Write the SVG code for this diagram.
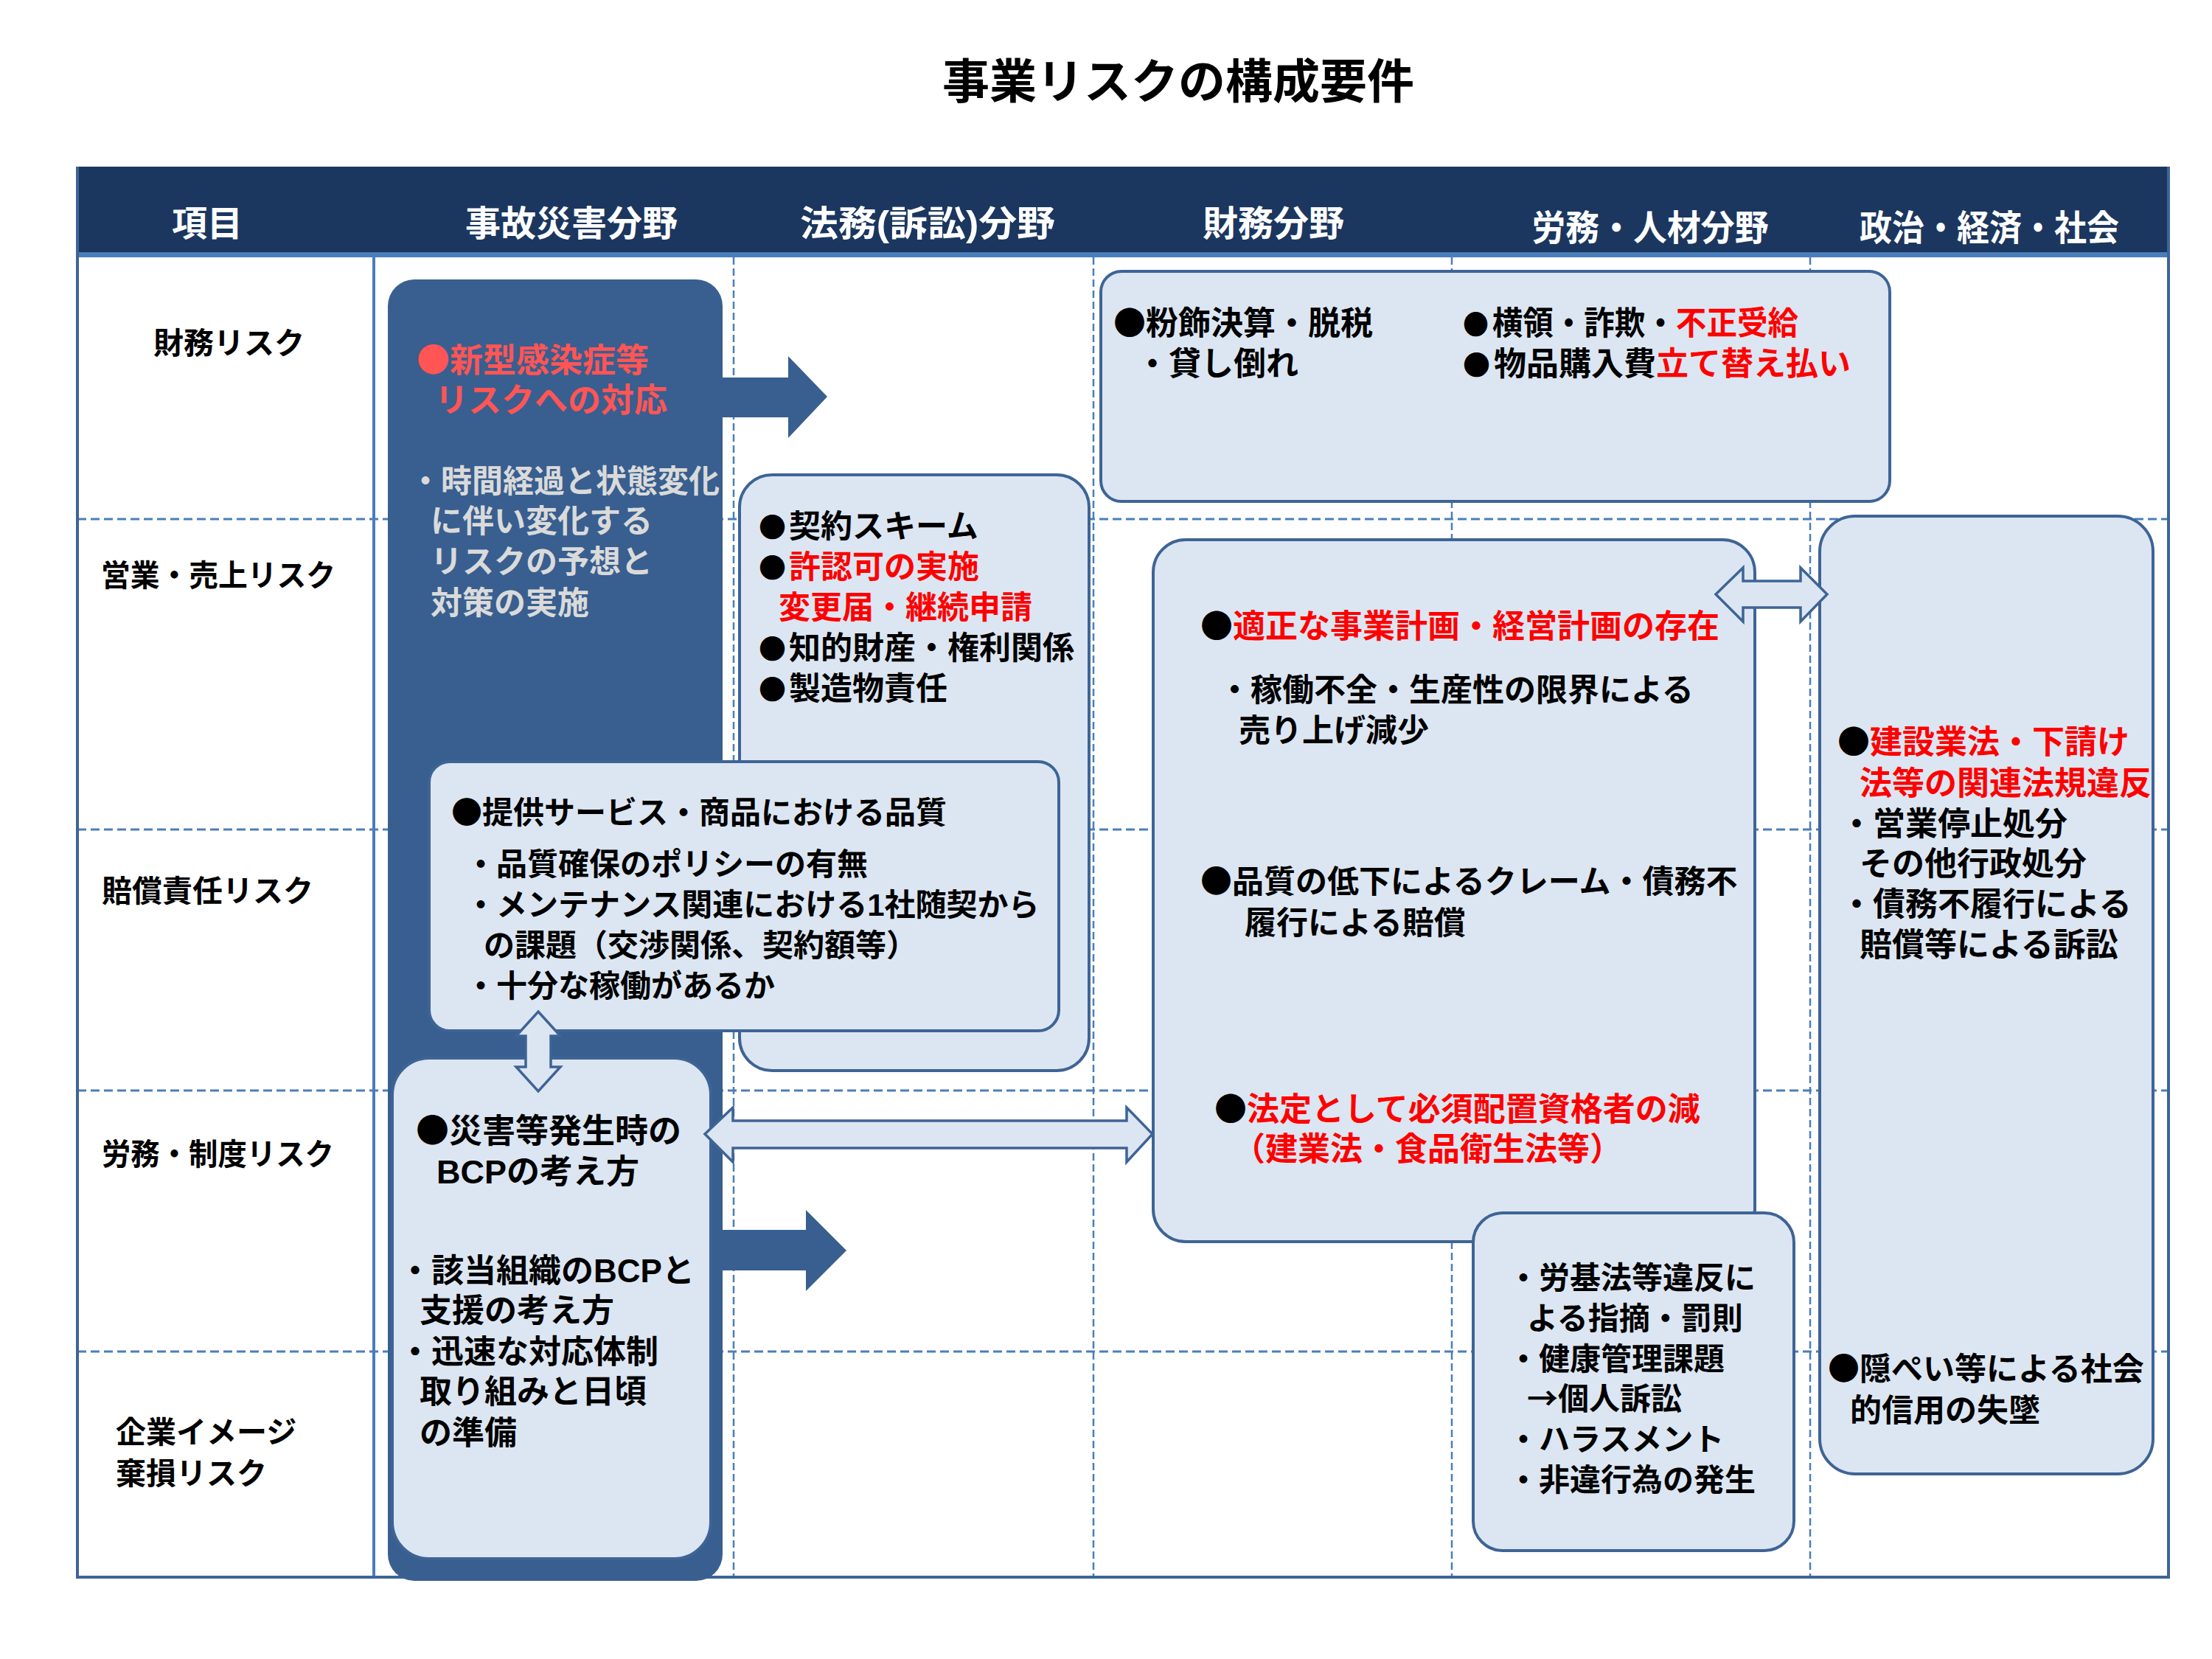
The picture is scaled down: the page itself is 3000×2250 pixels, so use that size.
<svg xmlns="http://www.w3.org/2000/svg" width="3000" height="2250" viewBox="0 0 3000 2250">
<defs>
<style>
text{font-family:"Liberation Sans","Noto Sans CJK JP",sans-serif;font-weight:bold;fill:#000}
.c{font-family:"Noto Sans CJK JP",sans-serif}
.cs{font-family:"Noto Sans CJK JP",sans-serif;font-size:37px}
.title{font-size:64px}
.hd{font-size:48px;fill:#fff;text-anchor:middle}
.row{font-size:41px}
.box{fill:#DCE6F2;stroke:#3E6496;stroke-width:4}
.dark{fill:#385F8F}
.dlarr{fill:#DCE6F2;stroke:#3E6496;stroke-width:3.5;stroke-linejoin:miter}
.hdash{stroke:#4A7EBB;stroke-width:3;stroke-dasharray:12 6;fill:none}
.vdash{stroke:#4A7EBB;stroke-width:2.5;stroke-dasharray:10 5;fill:none}
.r{fill:#FF0000}
.rl{fill:#FF5555}
.g{fill:#DADADA}
.f41{font-size:41px}.f42{font-size:42px}.f43{font-size:43px}.f44{font-size:44px}.f45{font-size:45px}
</style>
</defs>
<rect width="3000" height="2250" fill="#fff"/>
<text class="title" x="1598" y="133" text-anchor="middle">事業リスクの構成要件</text>

<g id="table">
<rect x="105" y="226" width="2836" height="116" fill="#1B375F"/>
<rect x="105" y="342" width="2836" height="7" fill="#4A7EBB"/>
<text class="hd" x="281" y="320">項目</text>
<text class="hd" x="775" y="320">事故災害分野</text>
<text class="hd" x="1258" y="320" textLength="346" lengthAdjust="spacingAndGlyphs">法務(訴訟)分野</text>
<text class="hd" x="1727" y="320">財務分野</text>
<text class="hd" x="2238" y="326" textLength="321" lengthAdjust="spacingAndGlyphs">労務・人材分野</text>
<text class="hd" x="2698" y="326" textLength="352" lengthAdjust="spacingAndGlyphs">政治・経済・社会</text>
<line class="hdash" x1="105" y1="704" x2="2941" y2="704"/>
<line class="hdash" x1="105" y1="1125" x2="2941" y2="1125"/>
<line class="hdash" x1="105" y1="1479" x2="2941" y2="1479"/>
<line class="hdash" x1="105" y1="1833" x2="2941" y2="1833"/>
<line class="vdash" x1="995" y1="349" x2="995" y2="2139"/>
<line class="vdash" x1="1483" y1="349" x2="1483" y2="2139"/>
<line class="vdash" x1="1969" y1="349" x2="1969" y2="2139"/>
<line class="vdash" x1="2455" y1="349" x2="2455" y2="2139"/>
<line x1="507" y1="349" x2="507" y2="2139" stroke="#4A7EBB" stroke-width="4"/>
<path d="M105 226 V2139 H2941 V226" fill="none" stroke="#3E6496" stroke-width="4"/>
<text class="row" x="208" y="480">財務リスク</text>
<text class="row" x="137" y="795" textLength="318" lengthAdjust="spacingAndGlyphs">営業・売上リスク</text>
<text class="row" x="138" y="1223">賠償責任リスク</text>
<text class="row" x="138" y="1580" textLength="315" lengthAdjust="spacingAndGlyphs">労務・制度リスク</text>
<text class="row" x="157" y="1957">企業イメージ</text>
<text class="row" x="157" y="2013">棄損リスク</text>
</g>

<g id="disaster">
<rect class="dark" x="526" y="379" width="454" height="1765" rx="36"/>
<text class="f45 rl" x="565" y="505"><tspan class="c">●</tspan>新型感染症等</text>
<text class="f45 rl" x="590" y="559">リスクへの対応</text>
<text class="f43 g" x="556" y="668" textLength="420" lengthAdjust="spacingAndGlyphs">・時間経過と状態変化</text>
<text class="f43 g" x="584" y="722">に伴い変化する</text>
<text class="f43 g" x="584" y="777">リスクの予想と</text>
<text class="f43 g" x="584" y="833">対策の実施</text>
</g>

<g id="connectors">
<polygon class="dark" points="957,512 1069,512 1069,483 1122,538 1069,594 1069,566 957,566"/>
<polygon class="dark" points="975,1668 1093,1668 1093,1641 1148,1696 1093,1751 1093,1723 975,1723"/>
</g>

<g id="legal">
<rect class="box" x="1003" y="644" width="474" height="808" rx="44"/>
<text class="f43" x="1029" y="729"><tspan class="cs">●</tspan><tspan dx="4">契約スキーム</tspan></text>
<text class="f43" x="1029" y="784"><tspan class="cs">●</tspan><tspan class="r" dx="4">許認可の実施</tspan></text>
<text class="f43 r" x="1056" y="839">変更届・継続申請</text>
<text class="f43" x="1029" y="894"><tspan class="cs">●</tspan><tspan dx="4">知的財産・権利関係</tspan></text>
<text class="f43" x="1029" y="949"><tspan class="cs">●</tspan><tspan dx="4">製造物責任</tspan></text>
</g>

<g id="quality">
<rect class="box" x="582" y="1033" width="854" height="365" rx="28"/>
<text class="f42" x="612" y="1117"><tspan class="c">●</tspan>提供サービス・商品における品質</text>
<text class="f42" x="631" y="1187">・品質確保のポリシーの有無</text>
<text class="f42" x="631" y="1242">・メンテナンス関連における1社随契から</text>
<text class="f42" x="656" y="1297">の課題（交渉関係、契約額等）</text>
<text class="f42" x="631" y="1352">・十分な稼働があるか</text>
</g>

<g id="bcp">
<rect class="box" x="532" y="1435" width="432" height="679" rx="50"/>
<text class="f45" x="564" y="1550"><tspan class="c">●</tspan>災害等発生時の</text>
<text class="f45" x="592" y="1605">BCPの考え方</text>
<text class="f44" x="541" y="1739">・該当組織のBCPと</text>
<text class="f44" x="569" y="1793">支援の考え方</text>
<text class="f44" x="541" y="1849">・迅速な対応体制</text>
<text class="f44" x="569" y="1903">取り組みと日頃</text>
<text class="f44" x="569" y="1959">の準備</text>
</g>

<g id="finance-top">
<rect class="box" x="1493" y="368" width="1070" height="312" rx="28"/>
<text class="f44" x="1510" y="454"><tspan class="c">●</tspan>粉飾決算・脱税</text>
<text class="f44" x="1541" y="509">・貸し倒れ</text>
<text class="f44" x="1984" y="454" textLength="455" lengthAdjust="spacingAndGlyphs"><tspan class="cs">●</tspan><tspan dx="5">横領・詐欺・</tspan><tspan class="r">不正受給</tspan></text>
<text class="f44" x="1984" y="509"><tspan class="cs">●</tspan><tspan dx="5">物品購入費</tspan><tspan class="r">立て替え払い</tspan></text>
</g>

<g id="finance-main">
<rect class="box" x="1564" y="732" width="816" height="952" rx="44"/>
<text class="f44" x="1628" y="865"><tspan class="c">●</tspan><tspan class="r">適正な事業計画・経営計画の存在</tspan></text>
<text class="f43" x="1653" y="951">・稼働不全・生産性の限界による</text>
<text class="f43" x="1680" y="1006">売り上げ減少</text>
<text class="f43" x="1628" y="1211"><tspan class="c">●</tspan>品質の低下によるクレーム・債務不</text>
<text class="f43" x="1688" y="1267">履行による賠償</text>
<text class="f44" x="1647" y="1520"><tspan class="c">●</tspan><tspan class="r">法定として必須配置資格者の減</tspan></text>
<text class="f44 r" x="1672" y="1574">（建業法・食品衛生法等）</text>
</g>

<g id="labor">
<rect class="box" x="1998" y="1645" width="435" height="458" rx="40"/>
<text class="f42" x="2045" y="1748">・労基法等違反に</text>
<text class="f42" x="2071" y="1803">よる指摘・罰則</text>
<text class="f42" x="2045" y="1858">・健康管理課題</text>
<text class="f42" x="2071" y="1912"><tspan class="c">→</tspan>個人訴訟</text>
<text class="f42" x="2045" y="1967">・ハラスメント</text>
<text class="f42" x="2045" y="2022">・非違行為の発生</text>
</g>

<g id="politics">
<rect class="box" x="2468" y="700" width="452" height="1299" rx="48"/>
<text class="f44" x="2492" y="1022"><tspan class="c">●</tspan><tspan class="r">建設業法・下請け</tspan></text>
<text class="f44 r" x="2522" y="1078">法等の関連法規違反</text>
<text class="f44" x="2496" y="1133">・営業停止処分</text>
<text class="f44" x="2522" y="1187">その他行政処分</text>
<text class="f44" x="2496" y="1242">・債務不履行による</text>
<text class="f44" x="2522" y="1297">賠償等による訴訟</text>
<text class="f43" x="2479" y="1872"><tspan class="c">●</tspan>隠ぺい等による社会</text>
<text class="f43" x="2509" y="1928">的信用の失墜</text>
</g>

<g id="connectors2">
<polygon class="dlarr" points="730,1372 760,1405 747,1405 747,1447 760,1447 730,1480 700,1447 713,1447 713,1405 700,1405"/>
<polygon class="dlarr" points="956,1538 994,1502 994,1520 1528,1520 1528,1502 1563,1538 1528,1576 1528,1557 994,1557 994,1576"/>
<polygon class="dlarr" points="2327,806 2364,770 2364,788 2442,788 2442,770 2478,806 2442,843 2442,824 2364,824 2364,843"/>
</g>
</svg>
